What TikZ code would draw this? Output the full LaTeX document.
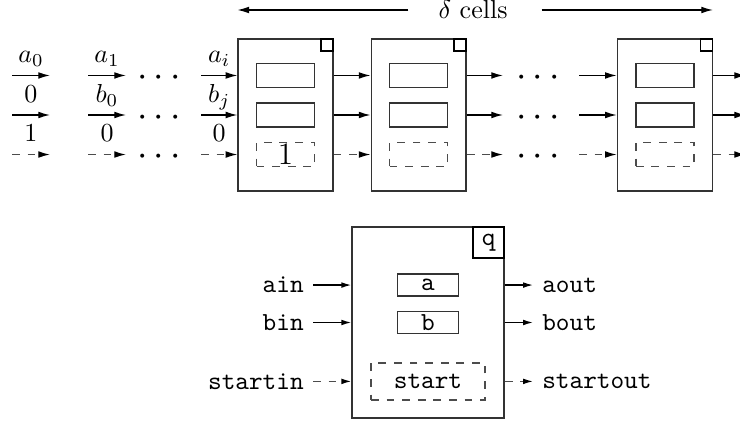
\documentclass[tikz,border=0pt]{standalone}
\usepackage{tikz}
\usepackage{xcolor}
\usetikzlibrary{positioning,arrows.meta}

\begin{document}
\begin{tikzpicture}[x=0.3846pt,y=-0.3846pt,line width=0.5pt,
        cellbox/.style={draw=black!80, minimum width=36.5pt, minimum height=58.5pt, inner sep=0pt},
        regbox/.style={draw=black!80, minimum width=22.3pt, minimum height=9.2pt, inner sep=0pt},
        flagbox/.style={regbox, dashed, draw=black!70},
        tagbox/.style={draw, minimum size=4.6pt, inner sep=0pt},
        sig/.style={font=\ttfamily},
        dots/.style={font=\Large, yshift=-1.2pt},
        lab/.style={above=1.3pt, text depth=0pt},
        wire/.style={-{Latex[length=4.5pt,width=2.6pt]}},
        dwire/.style={dashed, draw=black!70, -{Latex[length=4.5pt,width=2.6pt,color=black]}},
        swire/.style={-{Latex[length=3.8pt,width=2.2pt]}},
        dswire/.style={dashed, draw=black!70, -{Latex[length=3.8pt,width=2.2pt,color=black]}}]
    \useasboundingbox (0,0) rectangle (740,421);

    % the row of cells
    \node [cellbox] (c1) at (285.5,115) {};
    \node [cellbox] [right=14.2pt of c1] (c2) {};
    \node [cellbox] [right=57.7pt of c2] (c3) {};

    \node [regbox] (c1b) at (c1.center) {};
    \node [regbox] [above=5.5pt of c1b] (c1a) {};
    \node [flagbox] [below=5.5pt of c1b] (c1s) {\large $1$};
    \node [tagbox, anchor=north east] (c1t) at (c1.north east) {};

    \node [regbox] (c2b) at (c2.center) {};
    \node [regbox] [above=5.5pt of c2b] (c2a) {};
    \node [flagbox] [below=5.5pt of c2b] (c2s) {};
    \node [tagbox, anchor=north east] (c2t) at (c2.north east) {};

    \node [regbox] (c3b) at (c3.center) {};
    \node [regbox] [above=5.5pt of c3b] (c3a) {};
    \node [flagbox] [below=5.5pt of c3b] (c3s) {};
    \node [tagbox, anchor=north east] (c3t) at (c3.north east) {};

    % columns of the input streams
    \coordinate (k0) at (12,0);
    \coordinate (k1) at (50,0);
    \coordinate (k2) at (88,0);
    \coordinate (k3) at (126,0);
    \coordinate (k4) at (201,0);
    \coordinate (k5) at (503,0);
    \coordinate (k6) at (579,0);
    \coordinate (k7) at (746,0);
    \coordinate (d1) at (159,0);
    \coordinate (d2) at (538,0);

    \draw [wire] (k0 |- c1a) -- node [lab] (la0) {$a_0$} (k1 |- c1a);
    \draw [wire] (k0 |- c1b) -- node [lab] (lb0) {$0$} (k1 |- c1b);
    \draw [dwire] (k0 |- c1s) -- node [lab] (ls0) {$1$} (k1 |- c1s);
    \draw [wire] (k2 |- c1a) -- node [lab] (la1) {$a_1$} (k3 |- c1a);
    \draw [wire] (k2 |- c1b) -- node [lab] (lb1) {$b_0$} (k3 |- c1b);
    \draw [dwire] (k2 |- c1s) -- node [lab] (ls1) {$0$} (k3 |- c1s);
    \draw [wire] (k4 |- c1a) -- node [lab] (la2) {$a_i$} (c1.west |- c1a);
    \draw [wire] (k4 |- c1b) -- node [lab] (lb2) {$b_j$} (c1.west |- c1b);
    \draw [dwire] (k4 |- c1s) -- node [lab] (ls2) {$0$} (c1.west |- c1s);

    \node [dots] (d1a) at (d1 |- c1a) {$\cdots$};
    \node [dots] (d1b) at (d1 |- c1b) {$\cdots$};
    \node [dots] (d1s) at (d1 |- c1s) {$\cdots$};

    \draw [wire] (c1.east |- c1a) -- (c2.west |- c2a);
    \draw [wire] (c1.east |- c1b) -- (c2.west |- c2b);
    \draw [dwire] (c1.east |- c1s) -- (c2.west |- c2s);
    \draw [wire] (c2.east |- c2a) -- (k5 |- c2a);
    \draw [wire] (c2.east |- c2b) -- (k5 |- c2b);
    \draw [dwire] (c2.east |- c2s) -- (k5 |- c2s);

    \node [dots] (d2a) at (d2 |- c2a) {$\cdots$};
    \node [dots] (d2b) at (d2 |- c2b) {$\cdots$};
    \node [dots] (d2s) at (d2 |- c2s) {$\cdots$};

    \draw [wire] (k6 |- c3a) -- (c3.west |- c3a);
    \draw [wire] (k6 |- c3b) -- (c3.west |- c3b);
    \draw [dwire] (k6 |- c3s) -- (c3.west |- c3s);
    \draw [wire] (c3.east |- c3a) -- (k7 |- c3a);
    \draw [wire] (c3.east |- c3b) -- (k7 |- c3b);
    \draw [dwire] (c3.east |- c3s) -- (k7 |- c3s);

    % width of the row
    \node (span) at (473,10) {$\delta$ cells};
    \draw [wire] ([xshift=-8pt]span.west) -- (c1.west |- span);
    \draw [wire] ([xshift=9.5pt]span.east) -- (c3.east |- span);

    % one cell in detail
    \node [cellbox, minimum width=58.5pt, minimum height=73.5pt] (q) at (428,322.5) {};
    \node [tagbox, sig, minimum size=11.9pt, anchor=north east] (qt) at (q.north east) {q};
    \node [regbox, sig, minimum width=23.5pt, minimum height=8.5pt] (qb) at (q.center) {b};
    \node [regbox, sig, minimum width=23.5pt, minimum height=8.5pt] [above=5.4pt of qb] (qa) {a};
    \node [flagbox, sig, minimum width=43.8pt, minimum height=14.2pt] [below=10.8pt of qb] (qs) {start};

    \coordinate (ql) at (313,0);
    \coordinate (qr) at (533,0);

    \node [sig, anchor=east] (ain) at (ql |- qa) {ain};
    \node [sig, anchor=east] (bin) at (ql |- qb) {bin};
    \node [sig, anchor=east] (startin) at (ql |- qs) {startin};
    \node [sig, anchor=west] (aout) at (qr |- qa) {aout};
    \node [sig, anchor=west] (bout) at (qr |- qb) {bout};
    \node [sig, anchor=west] (startout) at (qr |- qs) {startout};

    \path
    (ain) edge [swire] (q.west |- qa)
    (bin) edge [swire] (q.west |- qb)
    (startin) edge [dswire] (q.west |- qs)
    (q.east |- qa) edge [swire] (aout)
    (q.east |- qb) edge [swire] (bout)
    (q.east |- qs) edge [dswire] (startout);
\end{tikzpicture}
\end{document}
